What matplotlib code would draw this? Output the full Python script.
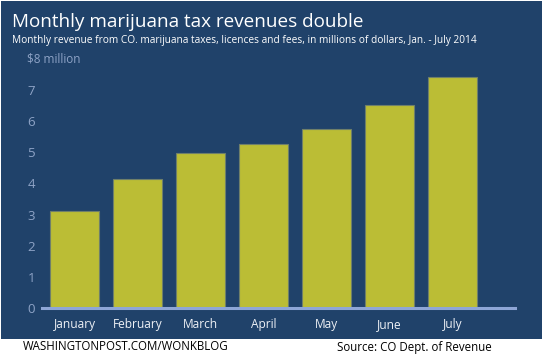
import matplotlib
matplotlib.use('Agg')
import matplotlib.pyplot as plt
import matplotlib.transforms as mtransforms

months = ['January', 'February', 'March', 'April', 'May', 'June', 'July']
revenue = [3.13, 4.14, 4.98, 5.27, 5.74, 6.52, 7.41]
y_ticks = [0, 1, 2, 3, 4, 5, 6, 7]
y_top_label = '$8 million'

BG = '#20426a'
BAR = '#bbbd35'
TICK = '#8ea3c6'
W, H = 544, 354

plt.rcParams['font.family'] = ['Open Sans', 'DejaVu Sans']

fig = plt.figure(figsize=(W / 100, H / 100), dpi=100)
fig.patch.set_facecolor('white')

# dark blue panel behind everything
bg = fig.add_axes([1 / W, 1 - 339 / H, 541 / W, 338 / H], zorder=-1)
bg.set_facecolor(BG)
bg.set_xticks([])
bg.set_yticks([])
for s in bg.spines.values():
    s.set_visible(False)

ax = fig.add_axes([42 / W, 46 / H, (515 - 42) / W, 249 / H])
ax.set_facecolor('none')
x = range(len(months))
ax.bar(x, revenue, width=0.78, color=BAR, edgecolor='#6f7f6a',
       linewidth=0.8, zorder=2)
ax.set_xlim(-0.516, 6.99)
ax.set_ylim(0, 8)

ax.set_yticks(y_ticks)
ax.set_yticklabels([str(t) for t in y_ticks])
ax.set_xticks(list(x))
ax.set_xticklabels(months)
ax.tick_params(axis='y', length=0, pad=5, labelcolor=TICK, labelsize=9.5)
ax.tick_params(axis='x', length=0, pad=7, labelcolor='#eef1f6', labelsize=8.6)
for s in ['top', 'right', 'left']:
    ax.spines[s].set_visible(False)
ax.spines['bottom'].set_color('#8ea6d6')
ax.spines['bottom'].set_linewidth(2.2)
ax.spines['bottom'].set_zorder(3)

# "$8 million" label at the top of the axis
trans = mtransforms.blended_transform_factory(fig.transFigure, ax.transData)
ax.text(27 / W, 8, y_top_label, transform=trans, ha='left', va='center',
        color=TICK, fontsize=8.5)

fig.text(12 / W, 1 - 22 / H, 'Monthly marijuana tax revenues double',
         color='white', fontsize=13.6, ha='left', va='center')
fig.text(12 / W, 1 - 40 / H,
         'Monthly revenue from CO. marijuana taxes, licences and fees, '
         'in millions of dollars, Jan. - July 2014',
         color='white', fontsize=7.3, ha='left', va='center')

fig.text(23 / W, 1 - 347 / H, 'WASHINGTONPOST.COM/WONKBLOG',
         color='black', fontsize=8.3, ha='left', va='center')
fig.text(337 / W, 1 - 347 / H, 'Source: CO Dept. of Revenue',
         color='black', fontsize=8.3, ha='left', va='center')

plt.savefig('out.png', dpi=100, facecolor=fig.get_facecolor())
